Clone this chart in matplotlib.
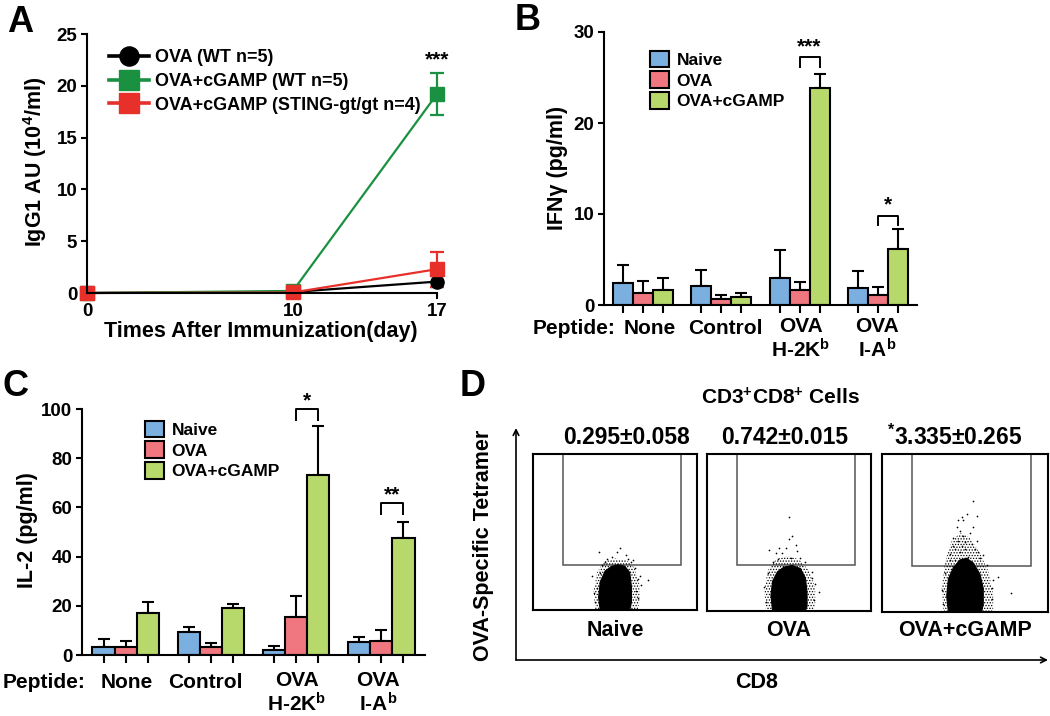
import matplotlib
matplotlib.use("Agg")
from matplotlib import pyplot as plt
from matplotlib.patches import Rectangle, Polygon

plt.rcParams["font.family"] = ["Liberation Sans", "DejaVu Sans"]
plt.rcParams["font.weight"] = "bold"
plt.rcParams["mathtext.fontset"] = "custom"
plt.rcParams["mathtext.rm"] = "Liberation Sans"
plt.rcParams["mathtext.bf"] = "Liberation Sans:bold"
plt.rcParams["mathtext.it"] = "Liberation Sans:italic"
plt.rcParams["hatch.linewidth"] = 0.6

# --- A: IgG1 over time ---
days = [0, 10, 17]
ova_wt = [0, 0.1, 1.1]
ova_wt_err = [0, 0.05, 0.5]
cgamp_wt = [0, 0.2, 19.2]
cgamp_wt_err = [0, 0.1, 2.05]
cgamp_sting = [0, 0.05, 2.3]
cgamp_sting_err = [0, 0.05, 1.7]
line_labels = ["OVA (WT n=5)", "OVA+cGAMP (WT n=5)", "OVA+cGAMP (STING-gt/gt n=4)"]

# --- B / C: cytokines per peptide ---
peptides = ["None", "Control", "OVA", "OVA"]
peptides_2 = ["", "", "H-2K$^{\\mathrm{b}}$", "I-A$^{\\mathrm{b}}$"]
bar_labels = ["Naive", "OVA", "OVA+cGAMP"]

ifn_naive = [2.4, 2.1, 3.0, 1.9]
ifn_naive_err = [1.95, 1.7, 3.0, 1.8]
ifn_ova = [1.3, 0.65, 1.7, 1.1]
ifn_ova_err = [1.3, 0.4, 0.8, 0.9]
ifn_cgamp = [1.65, 0.88, 23.8, 6.2]
ifn_cgamp_err = [1.3, 0.45, 1.55, 2.1]
ifn_sig_group = [2, 3]
ifn_sig_text = ["***", "*"]
ifn_sig_y = [27.2, 9.8]

il2_naive = [3.4, 9.5, 2.0, 5.4]
il2_naive_err = [3.1, 1.7, 1.8, 1.8]
il2_ova = [3.4, 3.1, 15.3, 5.7]
il2_ova_err = [2.4, 1.9, 8.8, 4.5]
il2_cgamp = [17.2, 19.2, 73.0, 47.6]
il2_cgamp_err = [4.5, 1.4, 20.1, 6.6]
il2_sig_group = [2, 3]
il2_sig_text = ["*", "**"]
il2_sig_y = [99.9, 61.8]

# --- D: tetramer staining ---
flow_groups = ["Naive", "OVA", "OVA+cGAMP"]
flow_values = ["0.295±0.058", "0.742±0.015", "$^{\\mathbf{*}}$3.335±0.265"]
gate_x = [0.18, 0.90]
gate_y = [0.29, 1.0]
naive_cloud_x = [0.41, 0.40, 0.41, 0.44, 0.48, 0.52, 0.56, 0.59, 0.60, 0.60, 0.59]
naive_cloud_y = [0.0, 0.08, 0.18, 0.25, 0.28, 0.29, 0.28, 0.24, 0.15, 0.05, 0.0]
naive_halo_x = [0.38, 0.37, 0.39, 0.43, 0.50, 0.57, 0.62, 0.65, 0.65, 0.64]
naive_halo_y = [0.0, 0.12, 0.24, 0.31, 0.33, 0.32, 0.27, 0.16, 0.06, 0.0]
ova_cloud_x = [0.40, 0.39, 0.40, 0.43, 0.47, 0.52, 0.57, 0.60, 0.61, 0.61, 0.60]
ova_cloud_y = [0.0, 0.10, 0.19, 0.25, 0.28, 0.29, 0.27, 0.21, 0.12, 0.03, 0.0]
ova_halo_x = [0.36, 0.35, 0.37, 0.42, 0.49, 0.56, 0.62, 0.66, 0.66, 0.65]
ova_halo_y = [0.0, 0.13, 0.26, 0.33, 0.35, 0.33, 0.26, 0.15, 0.05, 0.0]
cgamp_cloud_x = [0.40, 0.39, 0.40, 0.43, 0.47, 0.51, 0.55, 0.59, 0.61, 0.61, 0.60]
cgamp_cloud_y = [0.0, 0.10, 0.21, 0.28, 0.33, 0.34, 0.31, 0.24, 0.15, 0.05, 0.0]
cgamp_halo_x = [0.37, 0.36, 0.38, 0.42, 0.47, 0.53, 0.59, 0.64, 0.67, 0.67]
cgamp_halo_y = [0.0, 0.15, 0.32, 0.45, 0.50, 0.47, 0.37, 0.26, 0.12, 0.0]
naive_dots_x = [0.53, 0.40, 0.48, 0.57, 0.61, 0.70, 0.65, 0.45, 0.51, 0.36, 0.64,
                0.38, 0.39, 0.41, 0.37, 0.63, 0.64, 0.62, 0.66, 0.42, 0.60, 0.44, 0.58]
naive_dots_y = [0.40, 0.37, 0.34, 0.35, 0.32, 0.19, 0.22, 0.33, 0.37, 0.22, 0.08,
                0.05, 0.14, 0.24, 0.11, 0.12, 0.20, 0.27, 0.16, 0.29, 0.31, 0.31, 0.33]
ova_dots_x = [0.50, 0.52, 0.50, 0.38, 0.44, 0.48, 0.54, 0.55, 0.51, 0.46, 0.68, 0.64, 0.42,
              0.36, 0.35, 0.37, 0.65, 0.66, 0.64, 0.40, 0.60, 0.57, 0.43]
ova_dots_y = [0.60, 0.48, 0.46, 0.39, 0.40, 0.40, 0.42, 0.38, 0.34, 0.37, 0.12, 0.21, 0.37,
              0.06, 0.15, 0.24, 0.07, 0.17, 0.25, 0.31, 0.31, 0.34, 0.33]
cgamp_dots_x = [0.55, 0.57, 0.51, 0.48, 0.46, 0.49, 0.45, 0.55, 0.47, 0.43, 0.46,
                0.50, 0.56, 0.43, 0.47, 0.59, 0.52, 0.44, 0.70, 0.78, 0.66, 0.63,
                0.37, 0.36, 0.38, 0.66, 0.67, 0.41, 0.54, 0.58, 0.49, 0.53,
                0.44, 0.48, 0.61, 0.41, 0.57, 0.50]
cgamp_dots_y = [0.70, 0.61, 0.62, 0.60, 0.58, 0.58, 0.54, 0.54, 0.51, 0.47, 0.45,
                0.44, 0.40, 0.42, 0.38, 0.34, 0.35, 0.33, 0.22, 0.12, 0.15, 0.30,
                0.05, 0.14, 0.25, 0.08, 0.20, 0.33, 0.43, 0.38, 0.48, 0.50,
                0.40, 0.42, 0.36, 0.37, 0.45, 0.40]

bar_colors = ["#7bafe0", "#f0777f", "#b7d86b"]

W, H = 1050, 716
fig = plt.figure(figsize=(W / 100, H / 100), dpi=100)


def add_ax(x0, y0, x1, y1):
    return fig.add_axes([x0 / W, 1 - y1 / H, (x1 - x0) / W, (y1 - y0) / H])


def style_axis(ax):
    for s in ["top", "right"]:
        ax.spines[s].set_visible(False)
    for s in ["left", "bottom"]:
        ax.spines[s].set_linewidth(1.5)
    ax.tick_params(direction="out", length=4, width=1.5, labelsize=13.5, pad=3)
    for lab in ax.get_yticklabels() + ax.get_xticklabels():
        lab.set_fontweight("bold")


# panel A
axA = add_ax(87, 34, 437, 293)
series = [(ova_wt, ova_wt_err, "black", "o"),
          (cgamp_wt, cgamp_wt_err, "#1a9140", "s"),
          (cgamp_sting, cgamp_sting_err, "#e8302a", "s")]
handles = []
for (vals, errs, col, mk), lab in zip(series, line_labels):
    eb = axA.errorbar(days, vals, yerr=errs, color=col, marker=mk, ms=9.5, lw=1.6,
                      capsize=5, capthick=1.6, elinewidth=1.6, label=lab)
    for a in eb.get_children():
        a.set_clip_on(False)
    handles.append(eb.lines[0])
axA.set_xlim(0, 17)
axA.set_ylim(0, 25)
axA.set_xticks(days)
axA.set_yticks([0, 5, 10, 15, 20, 25])
style_axis(axA)
axA.text(17, 22.5, "***", ha="center", va="center", fontsize=15, fontweight="bold")
legA = axA.legend(handles, line_labels, loc="upper left", bbox_to_anchor=(100 / W, 1 - 40 / H),
                  bbox_transform=fig.transFigure, frameon=False, handlelength=2.2,
                  handletextpad=0.35, labelspacing=0.38, markerscale=1.45, borderpad=0,
                  prop={"weight": "bold", "size": 13})
for ln in legA.get_lines():
    ln.set_linewidth(2.6)


def bar_panel(ax, naive, naive_err, ova, ova_err, cgamp, cgamp_err, gap, ymax, yticks,
              sig_group, sig_text, sig_y, drop, star_off):
    centers = [g * gap for g in range(len(naive))]
    pos_all = []
    for k, (vals, errs) in enumerate([(naive, naive_err), (ova, ova_err), (cgamp, cgamp_err)]):
        pos = [c + k - 1 for c in centers]
        pos_all += pos
        ax.bar(pos, vals, width=1.0, color=bar_colors[k], edgecolor="black", linewidth=1.5,
               label=bar_labels[k], zorder=2)
        ax.errorbar(pos, vals, yerr=[[0] * len(vals), errs], fmt="none", ecolor="black",
                    elinewidth=1.5, capsize=4, capthick=1.5, zorder=1)
    for g, t, y in zip(sig_group, sig_text, sig_y):
        x1, x2 = centers[g], centers[g] + 1
        ax.plot([x1, x1, x2, x2], [y - drop, y, y, y - drop], color="black", lw=1.4,
                clip_on=False)
        ax.text((x1 + x2) / 2, y + star_off, t, ha="center", va="center", fontsize=15,
                fontweight="bold", clip_on=False)
    ax.set_xlim(-1 - 0.97, centers[-1] + 1 + 0.97)
    ax.set_ylim(0, ymax)
    ax.set_yticks(yticks)
    ax.set_xticks(pos_all)
    ax.set_xticklabels([])
    style_axis(ax)
    ax.tick_params(axis="x", length=6)
    ax.legend(loc="upper left", frameon=False, handlelength=1.1, handleheight=1.1,
              handletextpad=0.45, labelspacing=0.2, borderpad=0,
              prop={"weight": "bold", "size": 12.5})
    return centers


axB = add_ax(604, 32, 917, 305)
cB = bar_panel(axB, ifn_naive, ifn_naive_err, ifn_ova, ifn_ova_err, ifn_cgamp, ifn_cgamp_err,
               3.9, 30, [0, 10, 20, 30], ifn_sig_group, ifn_sig_text, ifn_sig_y, 1.05, 1.2)
axB.get_legend().set_bbox_to_anchor((641 / W, 1 - 42 / H), transform=fig.transFigure)

axC = add_ax(82, 409, 425, 655)
cC = bar_panel(axC, il2_naive, il2_naive_err, il2_ova, il2_ova_err, il2_cgamp, il2_cgamp_err,
               3.83, 100, [0, 20, 40, 60, 80, 100], il2_sig_group, il2_sig_text, il2_sig_y,
               4.3, 3.4)
axC.get_legend().set_bbox_to_anchor((136 / W, 1 - 412 / H), transform=fig.transFigure)

# panel D boxes
boxes = [(533, 454, 697, 610), (707, 454, 871, 611), (882, 454, 1048, 612)]
clouds = [(naive_cloud_x, naive_cloud_y, naive_halo_x, naive_halo_y, naive_dots_x, naive_dots_y),
          (ova_cloud_x, ova_cloud_y, ova_halo_x, ova_halo_y, ova_dots_x, ova_dots_y),
          (cgamp_cloud_x, cgamp_cloud_y, cgamp_halo_x, cgamp_halo_y, cgamp_dots_x, cgamp_dots_y)]
for (x0, y0, x1, y1), (cx, cy, hx, hy, dx, dy) in zip(boxes, clouds):
    ax = add_ax(x0, y0, x1, y1)
    ax.set_xlim(0, 1)
    ax.set_ylim(0, 1)
    ax.set_xticks([])
    ax.set_yticks([])
    for s in ax.spines.values():
        s.set_linewidth(1.5)
    ax.add_patch(Rectangle((gate_x[0], gate_y[0]), gate_x[1] - gate_x[0], gate_y[1] - gate_y[0],
                           fill=False, edgecolor="#555555", lw=1.1))
    ax.add_patch(Polygon(list(zip(hx, hy)), closed=True, facecolor="none", edgecolor="black",
                         hatch="......", lw=0))
    ax.add_patch(Polygon(list(zip(cx, cy)), closed=True, facecolor="black", edgecolor="black",
                         lw=0.8))
    ax.scatter(dx, dy, s=1.5, color="black", linewidths=0)

# overlay for annotations (pixel coordinates)
ov = fig.add_axes([0, 0, 1, 1])
ov.set_xlim(0, W)
ov.set_ylim(H, 0)
ov.axis("off")

for letter, x, y in [("A", 20, 22), ("B", 528, 20), ("C", 15, 386), ("D", 473, 387)]:
    ov.text(x, y, letter, fontsize=26, fontweight="bold", ha="center", va="center")

ov.text(35, 162, "IgG1 AU (10$^{\\mathrm{4}}$/ml)", rotation=90, ha="center", va="center",
        fontsize=15.5, fontweight="bold")
ov.text(261, 332, "Times After Immunization(day)", ha="center", va="center", fontsize=15.5,
        fontweight="bold")
ov.text(558, 168, "IFNγ (pg/ml)", rotation=90, ha="center", va="center", fontsize=15.5,
        fontweight="bold")
ov.text(27, 530, "IL-2 (pg/ml)", rotation=90, ha="center", va="center", fontsize=15.5,
        fontweight="bold")

# group label positions, pixels
label_px_B = [650, 725, 801, 877]
label_px_C = [127, 205, 297, 378]
for xs, ypep, y1, y2, xpep in [(label_px_B, 328, 326, 350, 615), (label_px_C, 683, 681, 704, 86)]:
    ov.text(xpep, ypep, "Peptide:", ha="right", va="center", fontsize=15, fontweight="bold")
    for x, p1, p2 in zip(xs, peptides, peptides_2):
        ov.text(x, y1 if p2 else ypep, p1, ha="center", va="center",
                fontsize=15, fontweight="bold")
        if p2:
            ov.text(x, y2, p2, ha="center", va="center", fontsize=15, fontweight="bold")

ov.text(780, 398, "CD3$^{\\mathbf{+}}$CD8$^{\\mathbf{+}}$ Cells", ha="center", va="center",
        fontsize=15, fontweight="bold")
for xv, val in zip([626, 785, 955], flow_values):
    ov.text(xv, 437, val, ha="center", va="center", fontsize=16.5, fontweight="bold")
for (x0, y0, x1, y1), g in zip(boxes, flow_groups):
    ov.text((x0 + x1) / 2, 630, g, ha="center", va="center", fontsize=15.5, fontweight="bold")
ov.text(757, 683, "CD8", ha="center", va="center", fontsize=15.5, fontweight="bold")
ov.text(483, 545, "OVA-Specific Tetramer", rotation=90, ha="center", va="center",
        fontsize=15.5, fontweight="bold")
ov.annotate("", xy=(516, 428), xytext=(516, 660),
            arrowprops=dict(arrowstyle="->", lw=1.2, color="black", shrinkA=0, shrinkB=0))
ov.annotate("", xy=(1048, 660), xytext=(516, 660),
            arrowprops=dict(arrowstyle="->", lw=1.2, color="black", shrinkA=0, shrinkB=0))

fig.savefig("out.png", dpi=100)
